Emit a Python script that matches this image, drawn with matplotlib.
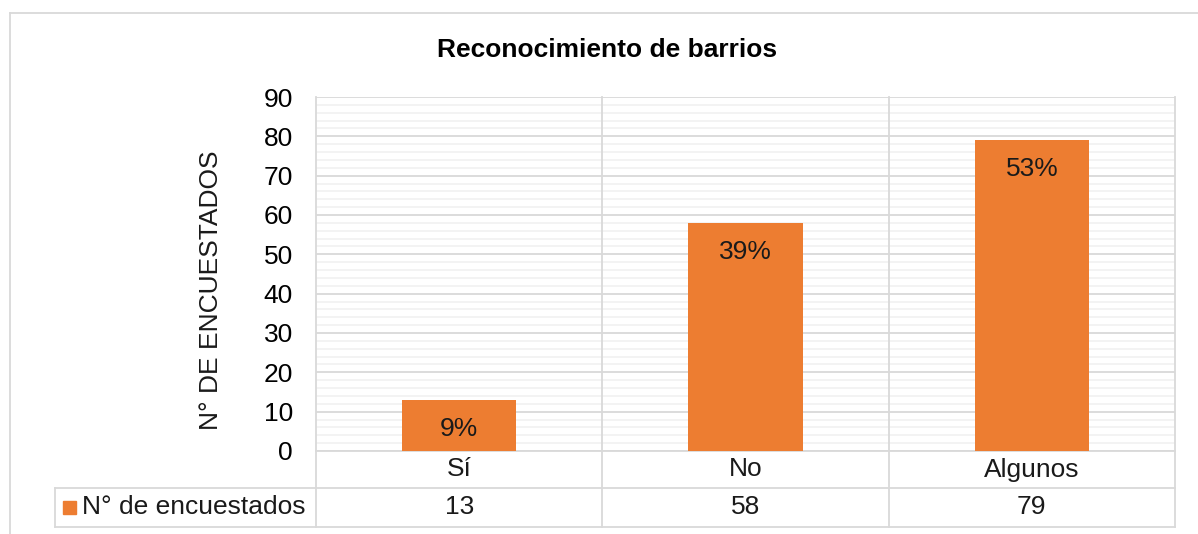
import matplotlib
matplotlib.use("Agg")
import matplotlib.pyplot as plt
from matplotlib.patches import Rectangle
from matplotlib.ticker import MultipleLocator

# data
categories = ["Sí", "No", "Algunos"]
encuestados = [13, 58, 79]
porcentajes = ["9%", "39%", "53%"]
series_name = "N° de encuestados"
title = "Reconocimiento de barrios"
ylabel = "N° DE ENCUESTADOS"

plt.rcParams["font.family"] = ["Liberation Sans", "DejaVu Sans"]

W, H = 1198, 534
fig = plt.figure(figsize=(W / 100, H / 100), dpi=100)

# plot area in pixels
left, right, top, bottom = 316, 1175, 97, 451
ax = fig.add_axes([left / W, (H - bottom) / H, (right - left) / W, (bottom - top) / H])

grid_major = "#d9d9d9"
grid_minor = "#f2f2f2"
orange = "#ED7D31"
fs = 19

n = len(categories)
x = list(range(n))
ax.set_xlim(-0.5, n - 0.5)
ax.set_ylim(0, 90)
ax.yaxis.set_major_locator(MultipleLocator(10))
ax.yaxis.set_minor_locator(MultipleLocator(2))
ax.grid(which="major", axis="y", color=grid_major, lw=1.3, zorder=1)
ax.grid(which="minor", axis="y", color=grid_minor, lw=1.3, zorder=0)
ax.tick_params(axis="y", which="both", length=0, labelsize=fs, pad=16.5)
ax.tick_params(axis="x", length=0, labelbottom=False)
for s in ax.spines.values():
    s.set_visible(False)

ax.bar(x, encuestados, width=0.4, color=orange, zorder=3)
for xi, v, p in zip(x, encuestados, porcentajes):
    ax.annotate(p, (xi, v), xytext=(0, -29), textcoords="offset pixels",
                ha="center", va="center", fontsize=fs, color="#1a1a1a", zorder=4)

fig.text(211 / W, (H - 290) / H, ylabel, rotation=90, ha="center", va="center",
         fontsize=fs, color="#1a1a1a")
fig.text(607 / W, (H - 50) / H, title, ha="center", va="center",
         fontsize=19, fontweight="bold")

# data table below the plot (axes fraction in y, data in x)
tr = ax.get_xaxis_transform()
ph = bottom - top
r1 = -(488 - bottom) / ph
r2 = -(527 - bottom) / ph
leg_left = -0.5 - (left - 55) / (right - left) * n
lw = 1.3
# vertical lines: plot borders and category separators
for xb in [-0.5 + i for i in range(n + 1)]:
    ax.plot([xb, xb], [r2, 1], transform=tr, color=grid_major, lw=lw, clip_on=False, zorder=2)
ax.plot([-0.5, n - 0.5], [0, 0], transform=tr, color=grid_major, lw=lw, clip_on=False, zorder=2)
for yr in (r1, r2):
    ax.plot([leg_left, n - 0.5], [yr, yr], transform=tr, color=grid_major, lw=lw, clip_on=False)
ax.plot([leg_left, leg_left], [r1, r2], transform=tr, color=grid_major, lw=lw, clip_on=False)

for xi, c, v in zip(x, categories, encuestados):
    ax.text(xi, r1 / 2, c, transform=tr, ha="center", va="center", fontsize=fs, color="#1a1a1a")
    ax.text(xi, (r1 + r2) / 2, str(v), transform=tr, ha="center", va="center",
            fontsize=fs, color="#1a1a1a")

# legend key inside the table
sq_x = -0.5 - (left - 63) / (right - left) * n
sq_w = 13 / (right - left) * n
sq_h = 13 / ph
ymid = (r1 + r2) / 2
ax.add_patch(Rectangle((sq_x, ymid - sq_h / 2), sq_w, sq_h, transform=tr,
                       color=orange, clip_on=False))
ax.text(-0.5 - (left - 82) / (right - left) * n, ymid, series_name, transform=tr,
        ha="left", va="center", fontsize=fs, color="#1a1a1a")

# outer chart frame (partly cropped)
fig.add_artist(plt.Line2D([10 / W, 10 / W], [0, (H - 13) / H], color=grid_major, lw=1.3))
fig.add_artist(plt.Line2D([10 / W, 1], [(H - 13) / H, (H - 13) / H], color=grid_major, lw=1.3))

fig.savefig("out.png", dpi=100)
